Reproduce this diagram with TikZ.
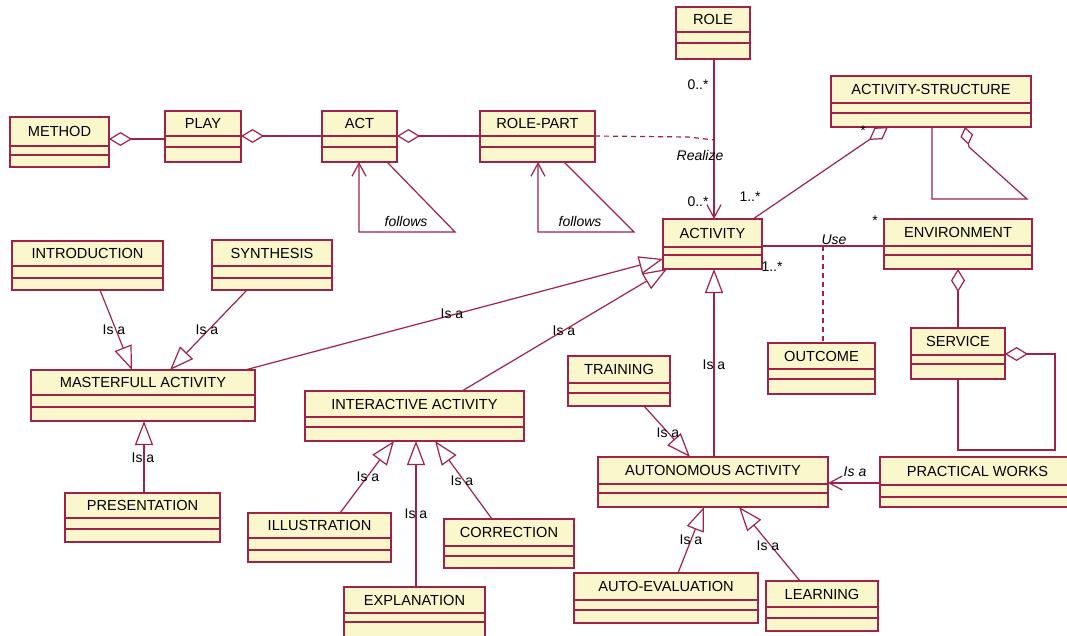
\documentclass[tikz,border=0pt]{standalone}
\usepackage{fontspec}
\setmainfont{Liberation Sans}
\usetikzlibrary{arrows.meta}

\definecolor{umlline}{RGB}{160,34,72}
\definecolor{umlfill}{RGB}{250,247,204}

\tikzset{
  classbox/.style={draw=umlline, fill=umlfill, line width=1.3pt, rectangle, inner sep=0pt, outer sep=0pt},
  classname/.style={font=\fontsize{14.6}{17}\selectfont, inner sep=0pt, text=black},
  compline/.style={draw=umlline, line width=1.3pt},
  assoc/.style={draw=umlline, line width=1.2pt},
  gen/.style={assoc, -{Triangle[open, length=24pt, width=18pt]}},
  agg/.style={assoc, {Diamond[open, length=23pt, width=14pt]}-},
  nav/.style={assoc, -{Straight Barb[length=13pt, width=14pt]}},
  dep/.style={assoc, dash pattern=on 5pt off 4pt},
  lbl/.style={font=\fontsize{14}{16}\selectfont, inner sep=0pt, text=black},
  ilbl/.style={font=\fontsize{14}{16}\selectfont\itshape, inner sep=0pt, text=black},
}

% class box: name, x1, y1, x2, y2, first and second compartment line, title
\newcommand{\umlclass}[8]{%
  \pgfmathsetmacro{\clsW}{#4-#2}%
  \pgfmathsetmacro{\clsH}{#5-#3}%
  \node[classbox, anchor=north west, minimum width=\clsW pt, minimum height=\clsH pt] (#1) at (#2,#3) {};
  \draw[compline] (#2,#6) -- (#4,#6);
  \draw[compline] (#2,#7) -- (#4,#7);
  \node[classname] (#1-title) at ({(#2+#4)/2},{(#3+#6)/2}) {#8};
}

\begin{document}
\begin{tikzpicture}[x=1pt, y=-1pt]
\useasboundingbox (0,0) rectangle (1067,636);
\fill[white] (0,0) rectangle (1067,636);
\clip (0,0) rectangle (1067,636);

% ---------- classes ----------
\umlclass{METHOD}{10}{117}{109}{167}{146}{155}{METHOD}
\umlclass{PLAY}{165}{111}{241}{162}{136}{147}{PLAY}
\umlclass{ACT}{322}{111}{397}{162}{136}{147}{ACT}
\umlclass{ROLEPART}{480}{111}{595}{162}{136}{147}{ROLE-PART}
\umlclass{ROLE}{676}{7}{750}{59}{32}{43}{ROLE}
\umlclass{ACTSTRUCT}{831}{76}{1031}{127}{103}{113}{ACTIVITY-STRUCTURE}
\umlclass{ACTIVITY}{663}{219}{762}{269}{247}{255}{ACTIVITY}
\umlclass{ENV}{884}{219}{1032}{269}{246}{255}{ENVIRONMENT}
\umlclass{SERVICE}{911}{328}{1005}{379}{355}{364}{SERVICE}
\umlclass{OUTCOME}{768}{343}{875}{394}{369}{379}{OUTCOME}
\umlclass{INTRO}{12}{241}{163}{290}{266}{278}{INTRODUCTION}
\umlclass{SYNTH}{212}{240}{332}{290}{266}{278}{SYNTHESIS}
\umlclass{MASTER}{31}{370}{255}{421}{395}{407}{MASTERFULL ACTIVITY}
\umlclass{INTER}{305}{391}{524}{441}{417}{427}{INTERACTIVE ACTIVITY}
\umlclass{TRAINING}{568}{356}{670}{406}{383}{393}{TRAINING}
\umlclass{AUTO}{598}{457}{828}{507}{484}{493}{AUTONOMOUS ACTIVITY}
\umlclass{PRACT}{880}{457}{1075}{507}{485}{497}{PRACTICAL WORKS}
\umlclass{PRES}{65}{493}{220}{542}{518}{529}{PRESENTATION}
\umlclass{ILLU}{248}{513}{391}{562}{538}{550}{ILLUSTRATION}
\umlclass{CORR}{444}{519}{574}{568}{546}{556}{CORRECTION}
\umlclass{EXPL}{344}{587}{485}{650}{613}{622}{EXPLANATION}
\umlclass{AUTOEVAL}{574}{573}{758}{623}{600}{610}{AUTO-EVALUATION}
\umlclass{LEARN}{766}{581}{878}{631}{607}{618}{LEARNING}

% ---------- aggregations ----------
\draw[agg] (METHOD.east |- 0,139) -- (PLAY.west |- 0,139);
\draw[agg] (PLAY.east |- 0,136) -- (ACT.west |- 0,136);
\draw[agg] (ACT.east |- 0,136) -- (ROLEPART.west |- 0,136);
\draw[agg] (ACTSTRUCT.south -| 888,0) -- (ACTIVITY.north -| 753,0);
\draw[assoc, {Diamond[open, length=18pt, width=13pt]}-]
  (ACTSTRUCT.south -| 965,0) -- (969,147) -- (1027,199) -- (932,199) -- (ACTSTRUCT.south -| 932,0);
\draw[agg] (ENV.south -| 958,0) -- (SERVICE.north -| 958,0);
\draw[agg] (SERVICE.east |- 0,354) -- (1055,354) -- (1055,450) -- (958,450) -- (SERVICE.south -| 958,0);

% ---------- reflexive "follows" associations ----------
\draw[nav] (ACT.south -| 387,0) -- (455,232) -- (359,232) -- (ACT.south -| 359,0);
\node[ilbl] (followsA) at (406,221) {follows};
\draw[nav] (ROLEPART.south -| 564,0) -- (634,232) -- (538,232) -- (ROLEPART.south -| 538,0);
\node[ilbl] (followsB) at (580,221) {follows};

% ---------- ROLE -- ACTIVITY, realized by ROLE-PART ----------
\draw[nav] (ROLE.south -| 714,0) -- (ACTIVITY.north -| 714,0) coordinate[pos=0.506] (realizept);
\draw[dep] (ROLEPART.east |- 0,136) -- (688,137) -- (realizept);
\node[lbl] (mulRole) at (698,85) {0..*};
\node[ilbl] (realize) at (700,155) {Realize};
\node[lbl] (mulAct) at (698,202) {0..*};
\node[lbl] (mulStruct) at (863,131) {*};
\node[lbl] (mulStructAct) at (750,197) {1..*};

% ---------- ACTIVITY uses ENVIRONMENT, with OUTCOME ----------
\draw[assoc] (ACTIVITY.east |- 0,246) -- (ENV.west |- 0,246) coordinate[pos=0.5] (usept);
\draw[dep] (usept) -- (OUTCOME.north -| usept);
\node[ilbl] (use) at (834,240) {Use};
\node[lbl] (mulEnv) at (875,221) {*};
\node[lbl] (mulUse) at (772,267) {1..*};

% ---------- generalizations ----------
\draw[gen] (INTRO.south -| 100,0) -- (MASTER.north -| 132,0);
\node[lbl] at (114,330) {Is a};
\draw[gen] (SYNTH.south -| 247,0) -- (MASTER.north -| 170,0);
\node[lbl] at (207,330) {Is a};
\draw[gen] (MASTER.north -| 245,0) -- (ACTIVITY.west |- 0,259);
\node[lbl] at (452,314) {Is a};
\draw[gen] (INTER.north -| 462,0) -- (ACTIVITY.south -| 667,0);
\node[lbl] at (564,331) {Is a};
\draw[gen] (AUTO.north -| 714,0) -- (ACTIVITY.south -| 714,0);
\node[lbl] at (714,365) {Is a};
\draw[gen] (PRES.north -| 144,0) -- (MASTER.south -| 144,0);
\node[lbl] at (143,458) {Is a};
\draw[gen] (ILLU.north -| 340,0) -- (INTER.south -| 394,0);
\node[lbl] at (368,477) {Is a};
\draw[gen] (EXPL.north -| 416,0) -- (INTER.south -| 416,0);
\node[lbl] at (416,514) {Is a};
\draw[gen] (CORR.north -| 492,0) -- (INTER.south -| 435,0);
\node[lbl] at (462,481) {Is a};
\draw[gen] (TRAINING.south -| 644,0) -- (AUTO.north -| 690,0);
\node[lbl] at (668,433) {Is a};
\draw[gen] (AUTOEVAL.north -| 678,0) -- (AUTO.south -| 704,0);
\node[lbl] at (691,540) {Is a};
\draw[gen] (LEARN.north -| 800,0) -- (AUTO.south -| 739,0);
\node[lbl] at (768,546) {Is a};
\draw[nav] (PRACT.west |- 0,483) -- (AUTO.east |- 0,483);
\node[ilbl] at (855,472) {Is a};
\end{tikzpicture}
\end{document}
